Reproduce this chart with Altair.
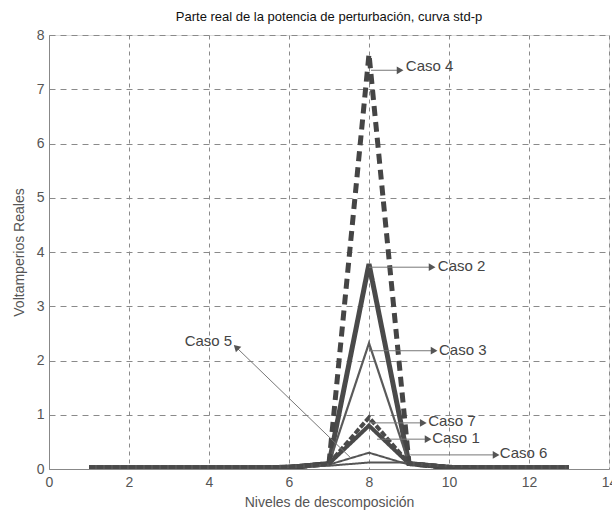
import altair as alt
import pandas as pd

# Decomposition levels and the real part of the disturbance power for each case
niveles = list(range(1, 14))
caso_1 = [0.03, 0.03, 0.03, 0.03, 0.03, 0.04, 0.10, 0.80, 0.10, 0.04, 0.03, 0.03, 0.03]
caso_2 = [0.02, 0.02, 0.02, 0.02, 0.02, 0.03, 0.10, 3.78, 0.10, 0.03, 0.02, 0.02, 0.02]
caso_3 = [0.04, 0.04, 0.04, 0.04, 0.04, 0.05, 0.10, 2.32, 0.10, 0.05, 0.04, 0.04, 0.04]
caso_4 = [0.01, 0.01, 0.01, 0.01, 0.01, 0.02, 0.10, 7.65, 0.10, 0.02, 0.01, 0.01, 0.01]
caso_5 = [0.05, 0.05, 0.05, 0.05, 0.05, 0.06, 0.08, 0.30, 0.08, 0.05, 0.05, 0.05, 0.05]
caso_6 = [0.02, 0.02, 0.02, 0.02, 0.02, 0.03, 0.06, 0.12, 0.12, 0.05, 0.02, 0.02, 0.02]
caso_7 = [0.03, 0.03, 0.03, 0.03, 0.03, 0.04, 0.10, 0.95, 0.10, 0.04, 0.03, 0.03, 0.03]

casos = ["Caso 1", "Caso 2", "Caso 3", "Caso 4", "Caso 5", "Caso 6", "Caso 7"]
series = [caso_1, caso_2, caso_3, caso_4, caso_5, caso_6, caso_7]

# Line style per case: (width, dash pattern, colour)
estilos = {
    "Caso 1": (4.0, [1, 0], "#4a4a4a"),
    "Caso 2": (5.0, [1, 0], "#4a4a4a"),
    "Caso 3": (2.2, [1, 0], "#5a5a5a"),
    "Caso 4": (5.0, [10, 6], "#454545"),
    "Caso 5": (2.0, [1, 0], "#555555"),
    "Caso 6": (2.0, [1, 0], "#555555"),
    "Caso 7": (4.0, [6, 2], "#4a4a4a"),
}

# Callouts: arrow start (x0, y0), arrow tip (x1, y1), label anchor (xt, yt)
etiquetas = ["Caso 4", "Caso 2", "Caso 3", "Caso 7", "Caso 1", "Caso 6", "Caso 5"]
flecha_x0 = [8.05, 8.0, 8.0, 8.0, 8.2, 9.03, 7.55]
flecha_y0 = [7.35, 3.72, 2.18, 0.85, 0.55, 0.26, 0.20]
flecha_x1 = [8.75, 9.55, 9.6, 9.33, 9.45, 11.15, 4.70]
flecha_y1 = [7.35, 3.72, 2.18, 0.85, 0.55, 0.26, 2.23]
punta_ang = [90, 90, 90, 90, 90, 90, 314]
texto_x = [8.87, 9.67, 9.7, 9.43, 9.53, 11.22, 4.58]
texto_y = [7.43, 3.75, 2.2, 0.88, 0.57, 0.29, 2.36]
texto_al = ["left", "left", "left", "left", "left", "left", "right"]

x_scale = alt.Scale(domain=[0, 14], nice=False, zero=False)
y_scale = alt.Scale(domain=[0, 8], nice=False)

x_axis = alt.Axis(
    title="Niveles de descomposición", values=list(range(0, 15, 2)), format="d",
    grid=True, gridDash=[4, 4], gridColor="#8a8a8a", gridWidth=1,
    ticks=False, labelPadding=6, labelFontSize=14, labelColor="#555555",
    labelFlush=False, titleFontSize=14, titleColor="#555555",
    titleFontWeight="normal", titlePadding=6, domainColor="#888888",
)
y_axis = alt.Axis(
    title="Voltamperios Reales", values=list(range(0, 9)), format="d",
    grid=True, gridDash=[6, 5], gridColor="#8a8a8a", gridWidth=1,
    ticks=False, labelPadding=5, labelFontSize=14, labelColor="#555555",
    labelFlush=False, titleFontSize=14, titleColor="#555555",
    titleFontWeight="normal", titlePadding=10, domainColor="#888888",
)

def ejes(cx, cy):
    return dict(
        x=alt.X(cx, scale=x_scale, axis=x_axis),
        y=alt.Y(cy, scale=y_scale, axis=y_axis),
    )

capas = []
for nombre, valores in zip(casos, series):
    ancho, trazo, color = estilos[nombre]
    df = pd.DataFrame({"nivel": niveles, "valor": valores, "caso": nombre})
    capas.append(
        alt.Chart(df).mark_line(
            strokeWidth=ancho, strokeDash=trazo, color=color, clip=True
        ).encode(**ejes("nivel:Q", "valor:Q"))
    )

callouts = pd.DataFrame({
    "caso": etiquetas, "x0": flecha_x0, "y0": flecha_y0,
    "x1": flecha_x1, "y1": flecha_y1, "ang": punta_ang,
    "tx": texto_x, "ty": texto_y, "al": texto_al,
})

flechas = alt.Chart(callouts).mark_rule(color="#777777", strokeWidth=1).encode(
    **ejes("x0:Q", "y0:Q"), x2="x1:Q", y2="y1:Q",
)
puntas = alt.Chart(callouts).mark_point(
    shape="triangle", filled=True, size=60, color="#555555", opacity=1
).encode(
    **ejes("x1:Q", "y1:Q"), angle=alt.Angle("ang:Q", scale=None),
)
textos_izq = alt.Chart(callouts[callouts["al"] == "left"]).mark_text(
    align="left", baseline="middle", fontSize=15, color="#444444",
    font="Liberation Sans", dx=2,
).encode(**ejes("tx:Q", "ty:Q"), text="caso:N")
textos_der = alt.Chart(callouts[callouts["al"] == "right"]).mark_text(
    align="right", baseline="middle", fontSize=15, color="#444444",
    font="Liberation Sans",
).encode(**ejes("tx:Q", "ty:Q"), text="caso:N")

chart = alt.layer(*capas, flechas, puntas, textos_izq, textos_der).properties(
    width=560,
    height=434,
    title=alt.TitleParams(
        "Parte real de la potencia de perturbación, curva std-p",
        fontSize=13, fontWeight="normal", color="#111111", offset=4,
        font="Liberation Sans",
    ),
    autosize=alt.AutoSizeParams(type="none"),
    padding={"left": 49, "top": 35, "right": 3, "bottom": 46},
).configure_view(
    stroke="#888888", strokeWidth=1
).configure_axis(
    labelFont="Liberation Sans", titleFont="Liberation Sans"
).configure(background="white")

chart.save("out.html", embed_options={"renderer": "svg", "actions": False})
